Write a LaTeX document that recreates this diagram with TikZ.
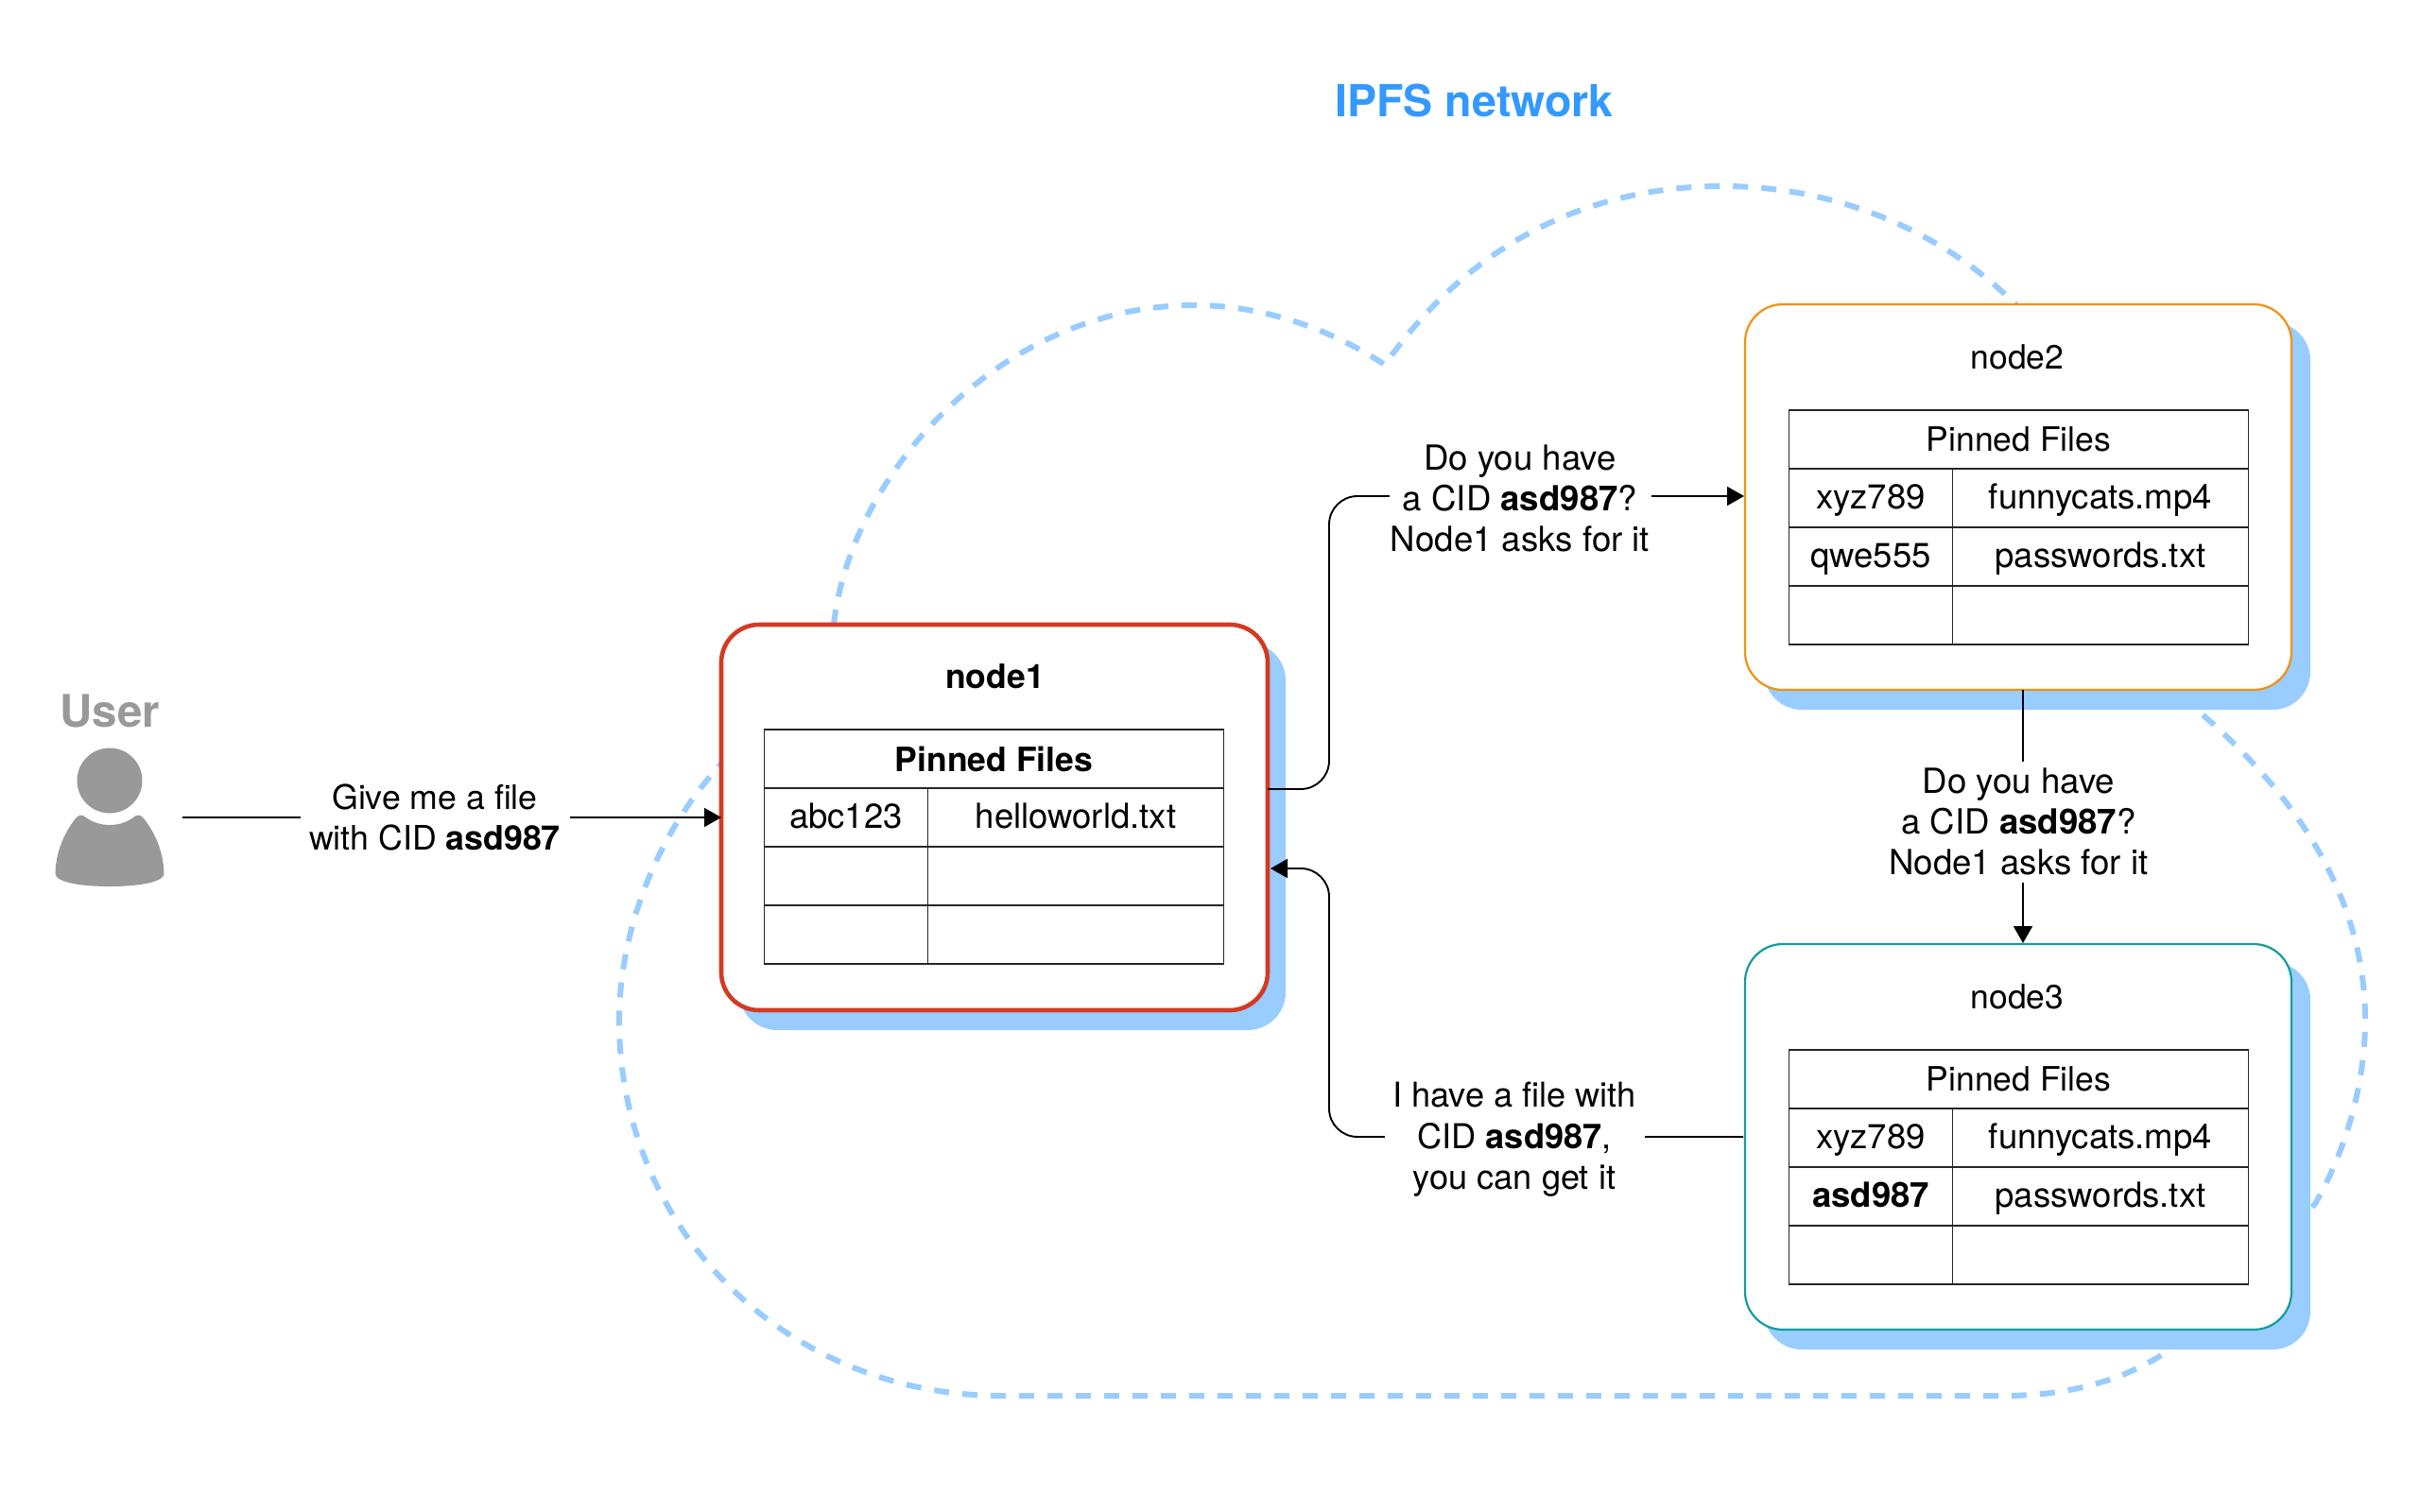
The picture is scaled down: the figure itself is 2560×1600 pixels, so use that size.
\documentclass[tikz,border=0pt]{standalone}
\usepackage{fontspec}
\setmainfont{TeX Gyre Heros}
\usetikzlibrary{arrows.meta}
\definecolor{cloudblue}{HTML}{99CCFF}
\definecolor{titleblue}{HTML}{3399FF}
\definecolor{userg}{HTML}{999999}
\definecolor{nred}{HTML}{D43A22}
\definecolor{norange}{HTML}{F29111}
\definecolor{nteal}{HTML}{119E9B}
\tikzset{
  x=1pt,y=-1pt,
  every node/.style={font=\fontsize{35.5}{43}\selectfont,inner sep=0pt,outer sep=0pt},
  cardbox/.style={rounded corners=40pt,fill=white,minimum width=578pt,minimum height=408pt,anchor=north west},
  cardshadow/.style={rounded corners=40pt,fill=cloudblue,minimum width=578pt,minimum height=410pt,anchor=north west},
  cell/.style={draw=black!85,line width=1.2pt,fill=white,minimum height=62pt,anchor=north west},
  head/.style={cell,minimum width=486pt},
  cola/.style={cell,minimum width=173pt,font=\fontsize{36.5}{43}\selectfont,text height=27pt,text depth=5pt},
  colb/.style={cell,minimum width=313pt,font=\fontsize{36.5}{43}\selectfont,text height=27pt,text depth=5pt},
  msg/.style={fill=white,align=center,minimum height=128pt,font=\fontsize{36.6}{43}\selectfont},
  flow/.style={draw=black,line width=1.9pt,-{Triangle[length=18pt,width=20pt]}},
}
\newcommand{\pinned}[9]{%
  \node[head] (#1h) at (#2,#3) {#4};
  \node[cola] (#1a1) at (#2,#3+62) {#5};
  \node[colb] (#1b1) at (#2+173,#3+62) {#6};
  \node[cola] (#1a2) at (#2,#3+124) {#7};
  \node[colb] (#1b2) at (#2+173,#3+124) {#8};
  \node[cola] (#1a3) at (#2,#3+186) {#9};
  \node[colb] (#1b3) at (#2+173,#3+186) {};
}
\begin{document}
\begin{tikzpicture}
\useasboundingbox (0,0) rectangle (2560,1600);
% cloud
\draw[cloudblue,line width=6pt,dash pattern=on 16pt off 14pt]
  (882,661) .. controls (900,500) and (1060,323) .. (1263,323)
  .. controls (1340,323) and (1410,350) .. (1465,386)
  .. controls (1560,250) and (1690,197) .. (1822,197)
  .. controls (1950,197) and (2060,250) .. (2132,322)
  -- (2325,752)
  .. controls (2440,850) and (2502,960) .. (2502,1079)
  .. controls (2502,1150) and (2480,1220) .. (2449,1274)
  -- (2297,1427)
  .. controls (2250,1460) and (2190,1477) .. (2120,1477)
  -- (1060,1477)
  .. controls (830,1477) and (655,1300) .. (655,1080)
  .. controls (655,985) and (695,880) .. (766,805);
% shadows
\node[cardshadow] (s1) at (782,680) {};
\node[cardshadow] (s2) at (1866,341) {};
\node[cardshadow] (s3) at (1866,1018) {};
% cards
\node[cardbox,draw=nred,line width=4.6pt] (node1) at (763,661) {};
\node[cardbox,draw=norange,line width=2.2pt] (node2) at (1846,322) {};
\node[cardbox,draw=nteal,line width=2.2pt] (node3) at (1846,999) {};
\node (t1) at (1052.5,716) {\textbf{node1}};
\node (t2) at (2134,378) {node2};
\node (t3) at (2134,1055) {node3};
\pinned{p}{808.5}{772}{\textbf{Pinned Files}}{abc123}{helloworld.txt}{}{}{}
\pinned{q}{1892.5}{434}{Pinned Files}{xyz789}{funnycats.mp4}{qwe555}{passwords.txt}{}
\pinned{r}{1892.5}{1111}{Pinned Files}{xyz789}{funnycats.mp4}{\textbf{asd987}}{passwords.txt}{}
% title and user
\node (title) at (1559.5,107) {\fontsize{46.6}{54}\selectfont\bfseries\color{titleblue}IPFS network};
\node (userlabel) at (116.5,752.5) {\fontsize{47.5}{54}\selectfont\bfseries\color{userg}User};
\fill[userg] (116,826) ellipse[x radius=34.5,y radius=34.5];
\fill[userg] (88,863) .. controls (97,870) and (106,873) .. (116,873)
  .. controls (126,873) and (135,870) .. (144,863)
  .. controls (149,861) and (152,866) .. (155,870)
  .. controls (167,887) and (173,905) .. (173.5,925)
  .. controls (172,934) and (145,938) .. (116,938)
  .. controls (87,938) and (60,934) .. (58.5,925)
  .. controls (59,905) and (65,887) .. (77,870)
  .. controls (80,866) and (83,861) .. (88,863) -- cycle;
\coordinate (user) at (193,865);
% connectors
\draw[flow] (user) -- (user -| node1.west);
\node[msg,minimum width=285pt,minimum height=90pt,font=\fontsize{35.7}{43}\selectfont] (m0) at (460,865) {Give me a file\\with CID \textbf{asd987}};
\draw[flow,rounded corners=30pt,shorten >=1pt] (node1.east |- 0,835) -- (1406,835) -- (1406,525) -- (node2.west |- 0,525);
\node[msg,minimum width=277pt] (m1) at (1608,527.5) {Do you have\\a CID \textbf{asd987}?\\Node1 asks for it};
\draw[flow] (2140,730) -- (2140,998);
\node[msg,minimum width=320pt] (m2) at (2135.5,869.5) {Do you have\\a CID \textbf{asd987}?\\Node1 asks for it};
\draw[flow,rounded corners=30pt,shorten >=3pt,shorten <=2pt] (node3.west |- 0,1203) -- (1406,1203) -- (1406,919) -- (node1.east |- 0,919);
\node[msg,minimum width=275pt,font=\fontsize{36.2}{43.4}\selectfont] (m3) at (1602,1206) {I have a file with\\CID \textbf{asd987},\\you can get it};
\end{tikzpicture}
\end{document}
